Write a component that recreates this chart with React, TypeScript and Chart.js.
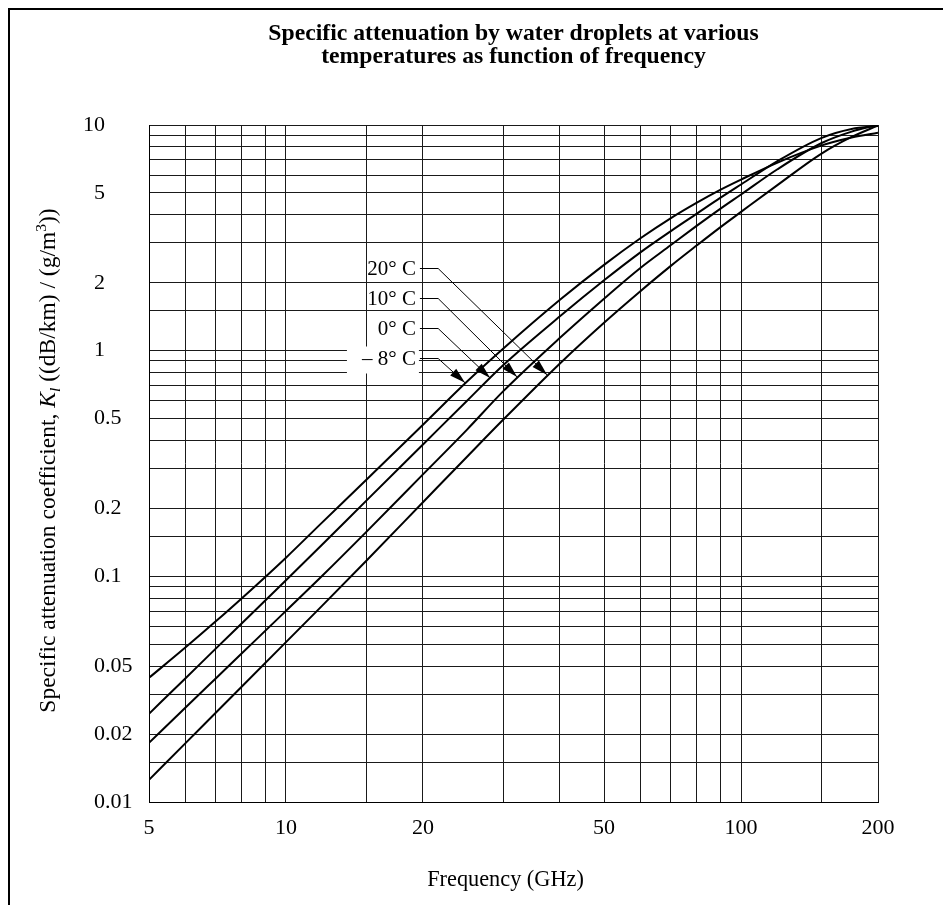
import React, { useEffect, useRef } from "react";
import { Chart, registerables } from "chart.js";

Chart.register(...registerables);

// ---------- data ----------
const frequencies = [5, 6, 7, 8, 10, 12, 15, 20, 25, 30, 40, 50, 60, 70, 80, 90, 100, 120, 150, 175, 200];
const kMinus8C = [0.0355, 0.0482, 0.063, 0.08, 0.121, 0.173, 0.267, 0.47, 0.73, 1.02, 1.68, 2.4, 3.14, 3.86, 4.53, 5.16, 5.73, 6.8, 8.1, 8.8, 9.25];
const k0C = [0.0246, 0.0352, 0.0477, 0.062, 0.0961, 0.138, 0.216, 0.384, 0.6, 0.862, 1.42, 2.05, 2.72, 3.38, 4.05, 4.75, 5.45, 6.9, 8.75, 9.6, 9.9];
const k10C = [0.0183, 0.0261, 0.0352, 0.0456, 0.0703, 0.1003, 0.157, 0.283, 0.447, 0.66, 1.14, 1.7, 2.32, 2.93, 3.58, 4.25, 4.92, 6.35, 8.3, 9.35, 10.0];
const k20C = [0.01253, 0.01815, 0.0248, 0.0325, 0.0511, 0.074, 0.117, 0.213, 0.339, 0.494, 0.878, 1.33, 1.83, 2.37, 2.93, 3.52, 4.12, 5.4, 7.45, 8.85, 9.95];

const xGridValues = [5, 6, 7, 8, 9, 10, 15, 20, 30, 40, 50, 60, 70, 80, 90, 100, 150, 200];
const xTickValues = [5, 10, 20, 50, 100, 200];
const xTickLabels = ["5", "10", "20", "50", "100", "200"];

const yGridValues = [
  0.01, 0.015, 0.02, 0.03, 0.04, 0.05, 0.06, 0.07, 0.08, 0.09,
  0.1, 0.15, 0.2, 0.3, 0.4, 0.5, 0.6, 0.7, 0.8, 0.9,
  1, 1.5, 2, 3, 4, 5, 6, 7, 8, 9, 10,
];
// as printed in the reference (its "0.05" label sits on the 0.04 line)
const yTickValues = [0.01, 0.02, 0.04, 0.1, 0.2, 0.5, 1, 2, 5, 10];
const yTickLabels = ["0.01", "0.02", "0.05", "0.1", "0.2", "0.5", "1", "2", "5", "10"];

const titleLines = [
  "Specific attenuation by water droplets at various",
  "temperatures as function of frequency",
];
const xTitle = "Frequency (GHz)";

// curve labels with leader arrows (data coordinates)
const tempLabels = ["20° C", "10° C", "0° C", "– 8° C"];
const tempLabelK = [2.33, 1.71, 1.26, 0.93];
const tempLabelRightFreq = 19.3;
const leaderElbowFreq = 21.6;
const arrowTipFreq = [37.5, 32.2, 28.1, 24.75];
const arrowTipK = [0.78, 0.765, 0.757, 0.72];
const tempLabelBoxed = [false, false, false, true];

const FONT = '"Liberation Serif", "Times New Roman", Times, serif';

const near = (a: number, b: number) => Math.abs(a - b) < 1e-9 * Math.max(1, Math.abs(b));

const overlayPlugin = {
  id: "overlay",
  afterDatasetsDraw(chart: any) {
    const { ctx, scales } = chart;
    const x = scales.x;
    const y = scales.y;
    ctx.save();
    ctx.font = `21px ${FONT}`;
    ctx.textBaseline = "middle";
    ctx.textAlign = "right";
    const textRight = x.getPixelForValue(tempLabelRightFreq);
    const elbowX = x.getPixelForValue(leaderElbowFreq);
    for (let i = 0; i < tempLabels.length; i++) {
      const ly = Math.round(y.getPixelForValue(tempLabelK[i])) + 0.5;
      const tx = x.getPixelForValue(arrowTipFreq[i]);
      const ty = y.getPixelForValue(arrowTipK[i]);
      if (tempLabelBoxed[i]) {
        ctx.fillStyle = "#fff";
        ctx.fillRect(textRight - 69, ly - 12, 72, 27);
      }
      ctx.fillStyle = "#000";
      ctx.fillText(tempLabels[i], textRight, ly + 1);
      ctx.beginPath();
      ctx.lineWidth = 1;
      ctx.strokeStyle = "#000";
      ctx.moveTo(textRight + 4, ly);
      ctx.lineTo(elbowX, ly);
      ctx.lineTo(tx, ty);
      ctx.stroke();
      const ang = Math.atan2(ty - ly, tx - elbowX);
      const L = 16;
      const W = 4.5;
      const c = Math.cos(ang);
      const s = Math.sin(ang);
      ctx.beginPath();
      ctx.moveTo(tx, ty);
      ctx.lineTo(tx - L * c + W * s, ty - L * s - W * c);
      ctx.lineTo(tx - L * c - W * s, ty - L * s + W * c);
      ctx.closePath();
      ctx.fill();
    }
    ctx.restore();
  },
  afterDraw(chart: any) {
    const { ctx, chartArea } = chart;
    ctx.save();
    ctx.fillStyle = "#000";
    // x axis title
    ctx.font = `22.3px ${FONT}`;
    ctx.textAlign = "center";
    ctx.textBaseline = "alphabetic";
    ctx.fillText(xTitle, (chartArea.left + chartArea.right) / 2 - 8, chartArea.bottom + 84);

    // y axis title with italic K and subscript l
    const size = 23.5;
    const small = 15.5;
    const segs = [
      { t: "Specific attenuation coefficient, ", f: `${size}px ${FONT}`, dy: 0 },
      { t: "K", f: `italic ${size}px ${FONT}`, dy: 0 },
      { t: "l", f: `italic ${small}px ${FONT}`, dy: 5 },
      { t: " ((dB/km) / (g/m", f: `${size}px ${FONT}`, dy: 0 },
      { t: "3", f: `${small}px ${FONT}`, dy: -9 },
      { t: "))", f: `${size}px ${FONT}`, dy: 0 },
    ];
    let total = 0;
    const widths: number[] = [];
    for (const sg of segs) {
      ctx.font = sg.f;
      const w = ctx.measureText(sg.t).width;
      widths.push(w);
      total += w;
    }
    ctx.translate(chartArea.left - 94, (chartArea.top + chartArea.bottom) / 2 - 3);
    ctx.rotate(-Math.PI / 2);
    ctx.textAlign = "left";
    let cx = -total / 2;
    segs.forEach((sg, i) => {
      ctx.font = sg.f;
      ctx.fillText(sg.t, cx, sg.dy);
      cx += widths[i];
    });
    ctx.restore();
  },
};

export default function App() {
  const canvasRef = useRef<HTMLCanvasElement | null>(null);

  useEffect(() => {
    if (!canvasRef.current) return;
    const mk = (arr: number[]) => frequencies.map((f, i) => ({ x: f, y: arr[i] }));
    const lineStyle = {
      borderColor: "#000",
      borderWidth: 2,
      pointRadius: 0,
      fill: false,
      cubicInterpolationMode: "monotone" as const,
    };
    const chart = new Chart(canvasRef.current, {
      type: "line",
      data: {
        datasets: [
          { label: "– 8° C", data: mk(kMinus8C), ...lineStyle },
          { label: "0° C", data: mk(k0C), ...lineStyle },
          { label: "10° C", data: mk(k10C), ...lineStyle },
          { label: "20° C", data: mk(k20C), ...lineStyle },
        ],
      },
      options: {
        animation: false,
        responsive: false,
        events: [],
        layout: { padding: { left: 73, right: 73, top: 0, bottom: 0 } },
        plugins: {
          legend: { display: false },
          tooltip: { enabled: false },
          title: {
            display: true,
            text: titleLines,
            fullSize: false,
            color: "#000",
            font: { family: FONT, size: 23.7, weight: "bold", lineHeight: "23px" },
            padding: { top: 12, bottom: 57 },
          },
        },
        scales: {
          x: {
            type: "logarithmic",
            min: 5,
            max: 200,
            afterBuildTicks: (scale: any) => {
              scale.ticks = xGridValues.map((v) => ({ value: v }));
            },
            afterFit: (scale: any) => {
              scale.height = 103;
            },
            ticks: {
              autoSkip: false,
              maxRotation: 0,
              padding: 13,
              color: "#000",
              font: { family: FONT, size: 22 },
              callback: (value: any) => {
                const idx = xTickValues.findIndex((v) => near(v, Number(value)));
                return idx >= 0 ? xTickLabels[idx] : "";
              },
            },
            grid: { color: "#1a1a1a", lineWidth: 1, drawTicks: false },
            border: { display: true, color: "#000", width: 1 },
          },
          y: {
            type: "logarithmic",
            min: 0.01,
            max: 10,
            afterBuildTicks: (scale: any) => {
              scale.ticks = yGridValues.map((v) => ({ value: v }));
            },
            afterFit: (scale: any) => {
              scale.width = 66;
            },
            ticks: {
              autoSkip: false,
              crossAlign: "far",
              color: "#000",
              font: { family: FONT, size: 22 },
              callback: (value: any) => {
                const idx = yTickValues.findIndex((v) => near(v, Number(value)));
                if (idx < 0) return "";
                const lab = yTickLabels[idx];
                const intDigits = lab.split(".")[0].length;
                return "  ".repeat(Math.max(0, 2 - intDigits)) + lab;
              },
            },
            grid: { color: "#1a1a1a", lineWidth: 1, drawTicks: false },
            border: { display: true, color: "#000", width: 1 },
          },
        },
      },
      plugins: [overlayPlugin],
    });
    return () => chart.destroy();
  }, []);

  return (
    <div
      style={{
        position: "relative",
        width: 943,
        height: 897,
        borderTop: "2px solid #000",
        borderLeft: "2px solid #000",
        boxSizing: "border-box",
        background: "#fff",
      }}
    >
      <canvas
        ref={canvasRef}
        width={941}
        height={895}
        style={{ position: "absolute", left: 0, top: 0, width: 941, height: 895, display: "block" }}
      />
    </div>
  );
}
